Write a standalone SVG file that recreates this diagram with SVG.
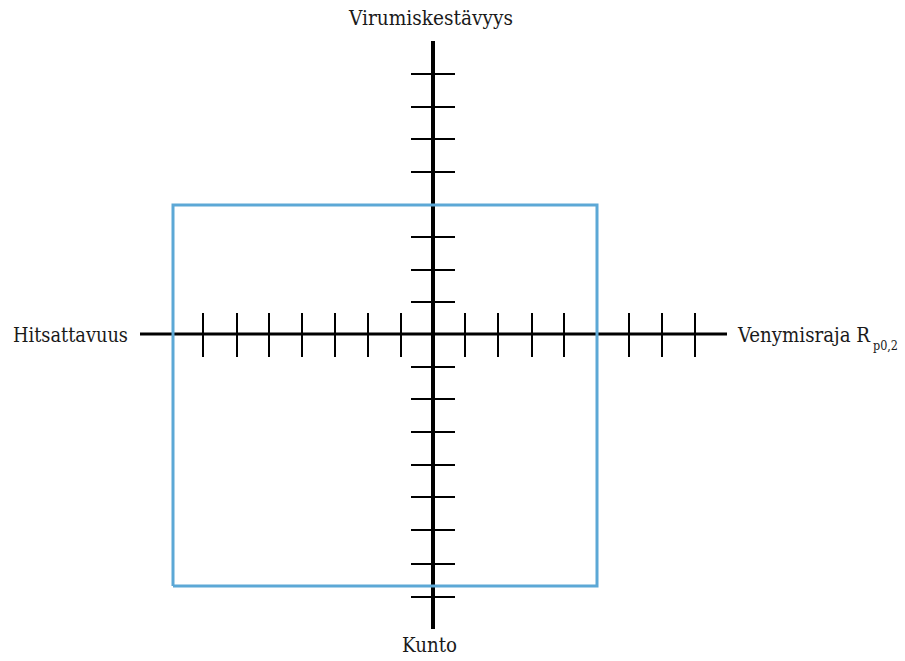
<svg xmlns="http://www.w3.org/2000/svg" width="905" height="661" viewBox="0 0 905 661">
<style>
.d{font-family:'DejaVu Serif Condensed','DejaVu Serif',serif;font-size:21px;fill:#1a1a1a}
.sub{font-size:13px}
.ax{stroke:#000;fill:none}
.tick{stroke:#000;stroke-width:2}
.box{stroke:#5ca8d6;stroke-width:3;fill:none}
</style>
<rect width="905" height="661" fill="#fff"/>
<g id="connectors">
<line class="ax" x1="433" y1="41" x2="433" y2="629" stroke-width="4"/>
<line class="ax" x1="140" y1="334" x2="727" y2="334" stroke-width="3"/>
<g id="vticks">
<line class="tick" x1="411" y1="74" x2="455" y2="74"/>
<line class="tick" x1="411" y1="107" x2="455" y2="107"/>
<line class="tick" x1="411" y1="139" x2="455" y2="139"/>
<line class="tick" x1="411" y1="172" x2="455" y2="172"/>
<line class="tick" x1="411" y1="237" x2="455" y2="237"/>
<line class="tick" x1="411" y1="270" x2="455" y2="270"/>
<line class="tick" x1="411" y1="302" x2="455" y2="302"/>
<line class="tick" x1="411" y1="367" x2="455" y2="367"/>
<line class="tick" x1="411" y1="399" x2="455" y2="399"/>
<line class="tick" x1="411" y1="432" x2="455" y2="432"/>
<line class="tick" x1="411" y1="465" x2="455" y2="465"/>
<line class="tick" x1="411" y1="497" x2="455" y2="497"/>
<line class="tick" x1="411" y1="530" x2="455" y2="530"/>
<line class="tick" x1="411" y1="564" x2="455" y2="564"/>
<line class="tick" x1="411" y1="597" x2="455" y2="597"/>
</g>
<g id="hticks">
<line class="tick" x1="203" y1="313" x2="203" y2="357"/>
<line class="tick" x1="237" y1="313" x2="237" y2="357"/>
<line class="tick" x1="269" y1="313" x2="269" y2="357"/>
<line class="tick" x1="302" y1="313" x2="302" y2="357"/>
<line class="tick" x1="335" y1="313" x2="335" y2="357"/>
<line class="tick" x1="368" y1="313" x2="368" y2="357"/>
<line class="tick" x1="401" y1="313" x2="401" y2="357"/>
<line class="tick" x1="465" y1="313" x2="465" y2="357"/>
<line class="tick" x1="498" y1="313" x2="498" y2="357"/>
<line class="tick" x1="532" y1="313" x2="532" y2="357"/>
<line class="tick" x1="564" y1="313" x2="564" y2="357"/>
<line class="tick" x1="629" y1="313" x2="629" y2="357"/>
<line class="tick" x1="662" y1="313" x2="662" y2="357"/>
<line class="tick" x1="695" y1="313" x2="695" y2="357"/>
</g>
</g>
<g id="box">
<polyline class="box" points="173,586 173,205 597,205 597,586 173,586"/>
</g>
<g id="label-top"><text class="d" x="349" y="25" textLength="164" lengthAdjust="spacingAndGlyphs">Virumiskestävyys</text></g>
<g id="label-left"><text class="d" x="13" y="342" textLength="115" lengthAdjust="spacingAndGlyphs">Hitsattavuus</text></g>
<g id="label-right"><text class="d" x="738" y="342" textLength="132" lengthAdjust="spacingAndGlyphs">Venymisraja R</text><text class="d sub" x="873" y="350" textLength="25" lengthAdjust="spacingAndGlyphs">p0,2</text></g>
<g id="label-bottom"><text class="d" x="402" y="652" textLength="55" lengthAdjust="spacingAndGlyphs">Kunto</text></g>
</svg>
